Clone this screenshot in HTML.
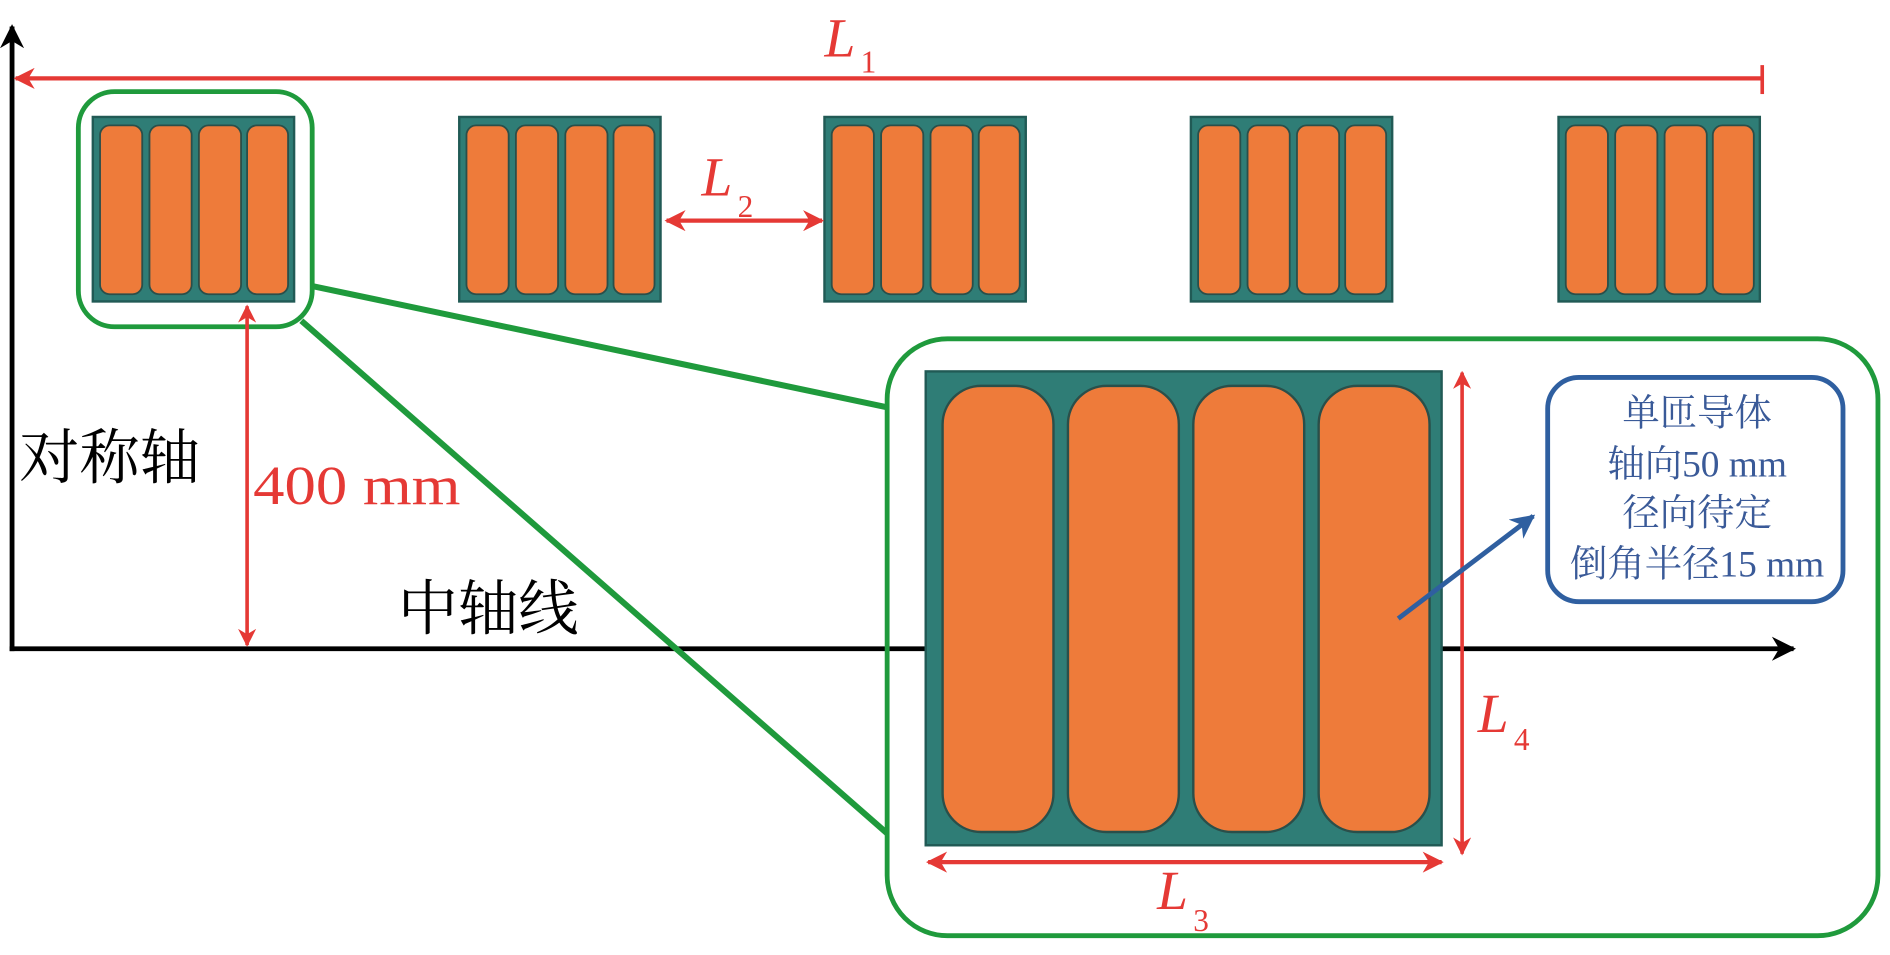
<!DOCTYPE html>
<html><head><meta charset="utf-8"><style>html,body{margin:0;padding:0;background:#fff}svg{display:block}</style></head>
<body>
<svg width="1890" height="955" viewBox="0 0 1568 792" preserveAspectRatio="none" xmlns="http://www.w3.org/2000/svg">
<defs>
<marker id="ar" viewBox="0 0 10 10" refX="9" refY="5" markerWidth="5" markerHeight="5" orient="auto-start-reverse"><path d="M0,0 L10,5 L0,10 L3,5 z" fill="#e53935"/></marker>
<marker id="ab" viewBox="0 0 10 10" refX="9" refY="5" markerWidth="5" markerHeight="5" orient="auto"><path d="M0,0 L10,5 L0,10 L3,5 z" fill="#000"/></marker>
<marker id="abl" viewBox="0 0 10 10" refX="9" refY="5" markerWidth="5" markerHeight="5" orient="auto"><path d="M0,0 L10,5 L0,10 L3,5 z" fill="#2f5fa0"/></marker>
<g id="sb">
<rect x="0" y="0" width="167" height="153" fill="#2f7d76" stroke="#215a55" stroke-width="2"/>
<rect x="6" y="7" width="35" height="140" rx="8" fill="#ee7b3a" stroke="#2a4f4a" stroke-width="1.5"/>
<rect x="47" y="7" width="35" height="140" rx="8" fill="#ee7b3a" stroke="#2a4f4a" stroke-width="1.5"/>
<rect x="88" y="7" width="35" height="140" rx="8" fill="#ee7b3a" stroke="#2a4f4a" stroke-width="1.5"/>
<rect x="128" y="7" width="34" height="140" rx="8" fill="#ee7b3a" stroke="#2a4f4a" stroke-width="1.5"/>
</g>
</defs>
<line x1="10" y1="540" x2="10" y2="22" stroke="#000" stroke-width="4" marker-end="url(#ab)"/>
<line x1="8" y1="538" x2="1488" y2="538" stroke="#000" stroke-width="4" marker-end="url(#ab)"/>
<line x1="1462" y1="65" x2="13" y2="65" stroke="#e53935" stroke-width="3.5" marker-end="url(#ar)"/>
<line x1="1462" y1="54" x2="1462" y2="78" stroke="#e53935" stroke-width="3"/>
<text x="684" y="47" font-family="Liberation Serif, serif" font-style="italic" font-size="46" fill="#e53935">L</text>
<text x="714" y="60" font-family="Liberation Serif, serif" font-size="26" fill="#e53935">1</text>
<use href="#sb" x="77" y="97"/>
<use href="#sb" x="381" y="97"/>
<use href="#sb" x="684" y="97"/>
<use href="#sb" x="988" y="97"/>
<use href="#sb" x="1293" y="97"/>
<rect x="65" y="76" width="194" height="195" rx="30" fill="none" stroke="#1f9a3c" stroke-width="4"/>
<line x1="258" y1="237" x2="737" y2="338" stroke="#1f9a3c" stroke-width="5"/>
<line x1="250" y1="266" x2="737" y2="692" stroke="#1f9a3c" stroke-width="5"/>
<rect x="736" y="281" width="822" height="495" rx="50" fill="#fff" stroke="#1f9a3c" stroke-width="4"/>
<line x1="738" y1="538" x2="1488" y2="538" stroke="#000" stroke-width="4" marker-end="url(#ab)"/>
<line x1="553" y1="183" x2="682" y2="183" stroke="#e53935" stroke-width="3.5" marker-start="url(#ar)" marker-end="url(#ar)"/>
<text x="582" y="162" font-family="Liberation Serif, serif" font-style="italic" font-size="46" fill="#e53935">L</text>
<text x="612" y="180" font-family="Liberation Serif, serif" font-size="26" fill="#e53935">2</text>
<line x1="205" y1="254" x2="205" y2="535" stroke="#e53935" stroke-width="3" marker-start="url(#ar)" marker-end="url(#ar)"/>
<text x="210" y="418" font-family="Liberation Serif, serif" font-size="46" fill="#e53935" textLength="172" lengthAdjust="spacingAndGlyphs">400 mm</text>
<text x="16" y="397" font-family="Liberation Serif, 'Noto Serif CJK SC', serif" font-size="50" fill="#000">对称轴</text>
<text x="330" y="522" font-family="Liberation Serif, 'Noto Serif CJK SC', serif" font-size="50" fill="#000">中轴线</text>
<rect x="768" y="308" width="428" height="393" fill="#2f7d76" stroke="#215a55" stroke-width="2"/>
<rect x="782" y="320" width="92" height="370" rx="32" fill="#ee7b3a" stroke="#2a4f4a" stroke-width="2"/>
<rect x="886" y="320" width="92" height="370" rx="32" fill="#ee7b3a" stroke="#2a4f4a" stroke-width="2"/>
<rect x="990" y="320" width="92" height="370" rx="32" fill="#ee7b3a" stroke="#2a4f4a" stroke-width="2"/>
<rect x="1094" y="320" width="92" height="370" rx="32" fill="#ee7b3a" stroke="#2a4f4a" stroke-width="2"/>
<line x1="1213" y1="309" x2="1213" y2="708" stroke="#e53935" stroke-width="3" marker-start="url(#ar)" marker-end="url(#ar)"/>
<text x="1226" y="607" font-family="Liberation Serif, serif" font-style="italic" font-size="46" fill="#e53935">L</text>
<text x="1256" y="622" font-family="Liberation Serif, serif" font-size="26" fill="#e53935">4</text>
<line x1="770" y1="715" x2="1196" y2="715" stroke="#e53935" stroke-width="3.5" marker-start="url(#ar)" marker-end="url(#ar)"/>
<text x="960" y="754" font-family="Liberation Serif, serif" font-style="italic" font-size="46" fill="#e53935">L</text>
<text x="990" y="772" font-family="Liberation Serif, serif" font-size="26" fill="#e53935">3</text>
<line x1="1160" y1="513" x2="1272" y2="428" stroke="#2f5fa0" stroke-width="4" marker-end="url(#abl)"/>
<rect x="1284" y="313" width="245" height="186" rx="26" fill="#fff" stroke="#2f5fa0" stroke-width="4"/>
<g font-family="Liberation Serif, 'Noto Serif CJK SC', serif" font-size="31" fill="#3a5a98" text-anchor="middle">
<text x="1408" y="353">单匝导体</text>
<text x="1408" y="395">轴向50 mm</text>
<text x="1408" y="436">径向待定</text>
<text x="1408" y="478">倒角半径15 mm</text>
</g>
</svg>
</body></html>
